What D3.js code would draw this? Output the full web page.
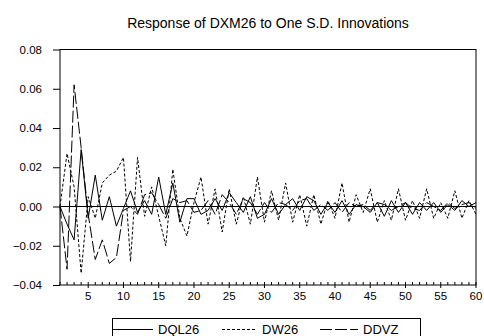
<!DOCTYPE html>
<html>
<head>
<meta charset="utf-8">
<script src="https://cdn.jsdelivr.net/npm/d3@7"></script>
<style>
    body { margin: 0; background: #fff; }
    svg { display: block; font-family: Arial, "Liberation Sans", sans-serif; }
</style>
</head>
<body>
<div id="irf-chart"></div>
<script>
// impulse response periods and series
var periods = d3.range(1, 61);
var xTickLabels = [5, 10, 15, 20, 25, 30, 35, 40, 45, 50, 55, 60];
var yTickValues = [0.08, 0.06, 0.04, 0.02, 0.00, -0.02, -0.04];

var dql26 = [0.000, -0.009, -0.017, 0.029, -0.006, 0.016, -0.007, 0.005, -0.010, -0.001,
    0.008, -0.003, 0.003, -0.004, 0.015, -0.004, 0.012, -0.008, 0.004, 0.004,
    -0.004, -0.002, 0.004, -0.002, 0.007, 0.002, -0.003, 0.005, -0.006, -0.004,
    0.004, -0.004, 0.001, 0.004, -0.002, 0.005, 0.003, -0.004, 0.002, -0.003,
    0.003, -0.004, 0.001, 0.000, -0.003, 0.002, -0.005, 0.003, -0.003, 0.002,
    -0.004, 0.002, -0.002, 0.002, -0.003, 0.001, -0.002, 0.003, 0.000, 0.002];

var dw26 = [0.000, 0.027, 0.010, -0.034, 0.005, -0.006, 0.012, 0.016, 0.018, 0.025,
    -0.028, 0.025, -0.005, 0.010, -0.005, -0.020, 0.019, -0.006, -0.015, 0.002,
    0.015, -0.009, 0.009, -0.013, 0.009, -0.009, 0.005, -0.009, 0.015, -0.008,
    0.008, -0.007, 0.012, -0.008, 0.006, -0.010, 0.006, -0.009, 0.003, -0.006,
    0.012, -0.008, 0.006, -0.003, 0.009, -0.008, 0.003, -0.007, 0.009, -0.007,
    0.003, -0.006, 0.009, -0.006, 0.002, -0.006, 0.008, -0.006, 0.003, -0.004];

var ddvz = [0.000, -0.032, 0.062, 0.030, -0.004, -0.027, -0.017, -0.029, -0.026, -0.002,
    0.000, -0.004, 0.006, 0.007, 0.001, -0.006, 0.004, 0.002, 0.003, -0.003,
    -0.002, 0.003, -0.004, 0.006, 0.002, -0.004, 0.004, 0.002, -0.004, 0.002,
    -0.003, 0.002, 0.001, -0.002, 0.003, 0.004, -0.002, 0.001, -0.002, 0.002,
    -0.003, 0.002, 0.000, 0.001, -0.002, 0.002, 0.001, -0.002, 0.000, 0.002,
    -0.001, -0.002, 0.002, 0.000, -0.002, 0.002, -0.001, 0.001, 0.002, -0.001];

var seriesList = [
    { name: "DQL26", values: dql26, dash: null },
    { name: "DW26", values: dw26, dash: "3,2" },
    { name: "DDVZ", values: ddvz, dash: "12,3" }
];

function drawResponseChart(element) {
    var width = 484, height = 336;
    var margin = { top: 49.5, right: 8, bottom: 51, left: 60 };

    var svg = d3.select(element)
        .append("svg")
        .attr("width", width)
        .attr("height", height);

    var x = d3.scaleLinear()
        .domain([1, 60])
        .range([margin.left, width - margin.right]);

    var y = d3.scaleLinear()
        .domain([-0.04, 0.08])
        .range([height - margin.bottom, margin.top]);

    // title
    svg.append("text")
        .attr("x", (x.range()[0] + x.range()[1]) / 2)
        .attr("y", 28)
        .attr("text-anchor", "middle")
        .attr("font-size", "14px")
        .text("Response of DXM26 to One S.D. Innovations");

    // left axis with outward ticks
    var yAxis = svg.append("g")
        .attr("transform", "translate(" + margin.left + ",0)")
        .call(d3.axisLeft(y).tickValues(yTickValues).tickFormat(d3.format(".2f")).tickSize(7).tickPadding(11));
    yAxis.select(".domain").remove();
    yAxis.selectAll("text").attr("font-size", "11.5px").attr("font-family", null);

    // bottom axis: minor ticks each period pointing in, major ticks at every fifth
    var y0 = y.range()[0];
    svg.append("g")
        .selectAll("line")
        .data(periods)
        .join("line")
        .attr("x1", d => x(d))
        .attr("x2", d => x(d))
        .attr("y1", y0)
        .attr("y2", d => y0 - 3)
        .attr("stroke", "#000");

    svg.append("g")
        .selectAll("line")
        .data(xTickLabels)
        .join("line")
        .attr("x1", d => x(d))
        .attr("x2", d => x(d))
        .attr("y1", y0)
        .attr("y2", y0 + 3)
        .attr("stroke", "#000");

    svg.append("g")
        .selectAll("text")
        .data(xTickLabels)
        .join("text")
        .attr("x", d => x(d))
        .attr("y", y0 + 15)
        .attr("text-anchor", "middle")
        .attr("font-size", "11.5px")
        .text(d => d);

    // frame
    svg.append("rect")
        .attr("x", x.range()[0])
        .attr("y", y.range()[1])
        .attr("width", x.range()[1] - x.range()[0])
        .attr("height", y.range()[0] - y.range()[1])
        .attr("fill", "none")
        .attr("stroke", "#000");

    // zero line
    svg.append("line")
        .attr("x1", x.range()[0])
        .attr("x2", x.range()[1])
        .attr("y1", y(0))
        .attr("y2", y(0))
        .attr("stroke", "#000");

    var line = d3.line()
        .x((d, i) => x(periods[i]))
        .y(d => y(d));

    seriesList.forEach(function (s) {
        svg.append("path")
            .datum(s.values)
            .attr("fill", "none")
            .attr("stroke", "#000")
            .attr("stroke-width", 1)
            .attr("stroke-dasharray", s.dash)
            .attr("d", line);
    });

    // legend
    var legend = svg.append("g");
    legend.append("rect")
        .attr("x", 112.5)
        .attr("y", 318.5)
        .attr("width", 308)
        .attr("height", 24)
        .attr("fill", "none")
        .attr("stroke", "#000");

    var legendItems = [
        { x1: 113, x2: 153, tx: 158 },
        { x1: 222, x2: 257, tx: 262 },
        { x1: 320, x2: 358, tx: 363 }
    ];
    seriesList.forEach(function (s, i) {
        var item = legendItems[i];
        legend.append("line")
            .attr("x1", item.x1)
            .attr("x2", item.x2)
            .attr("y1", 329.5)
            .attr("y2", 329.5)
            .attr("stroke", "#000")
            .attr("stroke-dasharray", s.dash);
        legend.append("text")
            .attr("x", item.tx)
            .attr("y", 334)
            .attr("font-size", "13px")
            .text(s.name);
    });
}

drawResponseChart("#irf-chart");
</script>
</body>
</html>
